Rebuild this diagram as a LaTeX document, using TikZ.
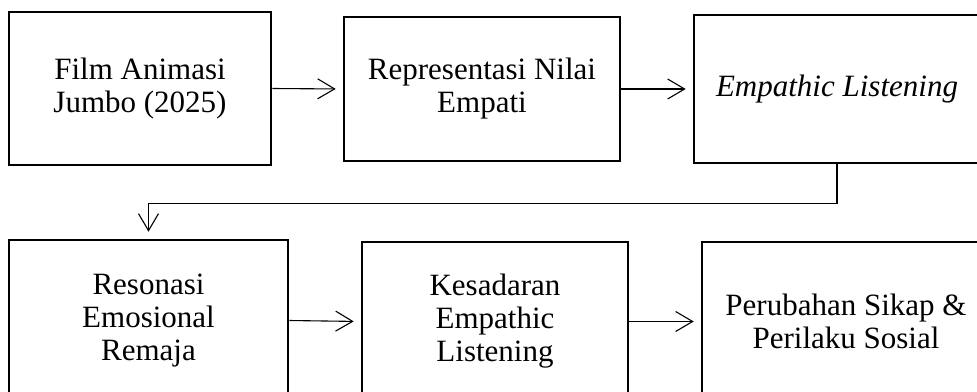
\documentclass[tikz,border=0pt]{standalone}
\usepackage{fontspec}
\setmainfont{Liberation Serif}
\usetikzlibrary{arrows.meta}
\begin{document}
\begin{tikzpicture}[x=1pt,y=-1pt,
  box/.style={draw=black,line width=2.6pt,rectangle,align=center,inner sep=0pt,
    font=\fontsize{31}{33}\selectfont},
  arr/.style={line width=1.1pt,-{Straight Barb[length=17pt,width=20pt,line width=1.1pt]},shorten >=7pt}]
\useasboundingbox (0,0) rectangle (977,391);
\clip (0,0) rectangle (977,391);
\node[box,minimum width=262pt,minimum height=153pt] (b1) at (140,88.5) {Film Animasi\\Jumbo (2025)};
\node[box,minimum width=276pt,minimum height=144pt] (b2) at (482,89) {Representasi Nilai\\Empati};
\node[box,minimum width=286pt,minimum height=148pt] (b3) at (837,89) {\itshape Empathic Listening};
\node[box,minimum width=279pt,minimum height=161pt] (b4) at (148.5,320.5) {Resonasi\\Emosional\\Remaja};
\node[box,minimum width=266pt,minimum height=159pt] (b5) at (495,321.5) {Kesadaran\\Empathic\\Listening};
\node[box,minimum width=288pt,minimum height=159pt] (b6) at (846,321.5) {Perubahan Sikap \&\\Perilaku Sosial};
\draw[arr] (b1.east) -- (b2.west);
\draw[arr] (b2.east) -- (b3.west);
\draw[arr] (b3.south) -- ++(0,39) coordinate (c1) -| (b4.north);
\draw[arr] (b4.east) -- (b5.west);
\draw[arr] (b5.east) -- (b6.west);
\end{tikzpicture}
\end{document}
